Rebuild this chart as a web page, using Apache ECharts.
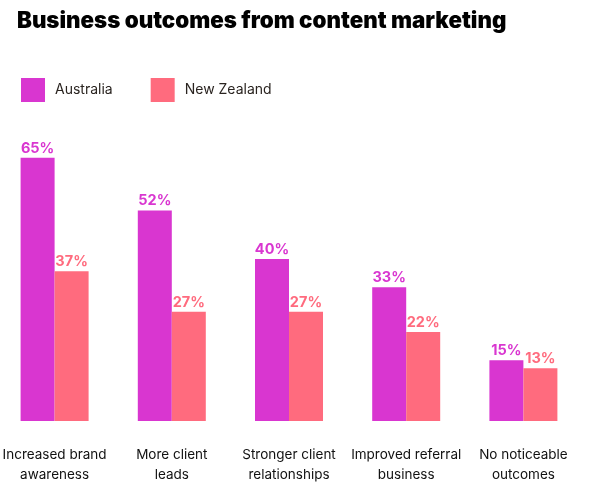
<!DOCTYPE html>
<html>
<head>
<meta charset="utf-8">
<script src="https://cdn.jsdelivr.net/npm/echarts@6/dist/echarts.min.js"></script>
<style>
  html, body { margin: 0; padding: 0; background: #fff; }
  #myChart { width: 598px; height: 502px; }
</style>
</head>
<body>
<div id="myChart"></div>
<script>
var categories = [
    'Increased brand\nawareness',
    'More client\nleads',
    'Stronger client\nrelationships',
    'Improved referral\nbusiness',
    'No noticeable\noutcomes'
];
var australia = [65, 52, 40, 33, 15];
var newZealand = [37, 27, 27, 22, 13];

var myChart = echarts.init(document.getElementById('myChart'));
var option = {
    textStyle: {
        fontFamily: 'Inter'
    },
    title: {
        text: 'Business outcomes from content marketing',
        left: 12,
        top: 5,
        textStyle: {
            fontSize: 22.3,
            fontWeight: 900,
            color: '#000'
        }
    },
    legend: {
        left: 16,
        top: 73,
        icon: 'rect',
        itemWidth: 24,
        itemHeight: 24,
        itemGap: 38,
        textStyle: {
            fontSize: 14,
            color: '#2a2420',
            padding: [0, 0, 0, 5]
        },
        data: ['Australia', 'New Zealand']
    },
    grid: {
        left: -4,
        right: 16,
        top: 137.5,
        bottom: 81,
        outerBoundsMode: 'none'
    },
    xAxis: {
        type: 'category',
        data: categories,
        axisLine: { show: false },
        axisTick: { show: false },
        axisLabel: {
            interval: 0,
            margin: 24,
            fontSize: 13.5,
            lineHeight: 20,
            color: '#111'
        }
    },
    yAxis: {
        type: 'value',
        min: 0,
        max: 70,
        show: false
    },
    series: [
        {
            name: 'Australia',
            type: 'bar',
            barWidth: 34,
            barGap: '0%',
            itemStyle: { color: '#d936d0' },
            label: {
                show: true,
                position: 'top',
                distance: 2,
                formatter: '{c}%',
                fontSize: 14.5,
                fontWeight: 'bold',
                color: '#d936d0'
            },
            data: australia
        },
        {
            name: 'New Zealand',
            type: 'bar',
            barWidth: 34,
            barGap: '0%',
            itemStyle: { color: '#ff6b7e' },
            label: {
                show: true,
                position: 'top',
                distance: 2,
                formatter: '{c}%',
                fontSize: 14.5,
                fontWeight: 'bold',
                color: '#ff6b7e'
            },
            data: newZealand
        }
    ]
};
myChart.setOption(option);
</script>
</body>
</html>
